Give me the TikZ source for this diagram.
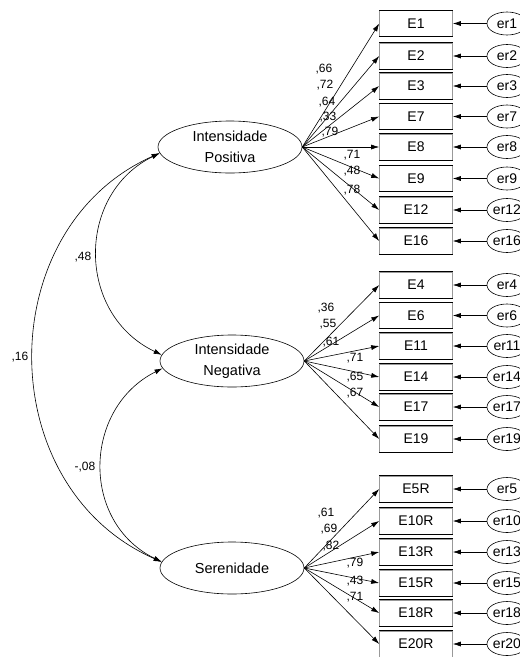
\documentclass[tikz,border=0pt]{standalone}
\usepackage{fontspec}
\setmainfont{Liberation Sans}
\usetikzlibrary{arrows.meta,shapes.geometric}

\begin{document}
\begin{tikzpicture}[x=1pt,y=-1pt,line width=0.6pt]
            \tikzset{item/.style = {shape=rectangle,draw=black!40,minimum width=73pt,minimum height=26pt,inner sep=0pt,font=\fontsize{14}{16}\selectfont,
                append after command={(\tikzlastnode.north west) edge[draw=black,line width=0.8pt] (\tikzlastnode.north east)
                                      (\tikzlastnode.south west) edge[draw=black,line width=0.8pt] (\tikzlastnode.south east)}}}
            \tikzset{factor/.style = {shape=ellipse,draw,minimum width=144pt,minimum height=52pt,inner sep=0pt,align=center,font=\fontsize{14.5}{21}\selectfont}}
            \tikzset{err/.style = {shape=ellipse,draw,minimum width=40pt,minimum height=23pt,inner sep=0pt,font=\fontsize{14}{16}\selectfont}}
            \tikzset{load/.style = {inner sep=0pt,font=\fontsize{12}{14}\selectfont}}
            \tikzset{edge/.style = {-{Latex[length=8pt,width=5pt]}}}
            \tikzset{cov/.style = {{Latex[length=8pt,width=5pt]}-{Latex[length=8pt,width=5pt]}}}
            \useasboundingbox (0,0) rectangle (520,657);

            \node[factor] (pos) at (230,147) {Intensidade\\Positiva};
            \node[factor] (neg) at (232,361) {Intensidade\\Negativa};
            \node[factor] (ser) at (232,568) {Serenidade};

            \node[item] (e1)  at (416,23.5) {E1};
            \node[item] (e2)  at (416,56)   {E2};
            \node[item] (e3)  at (416,86)   {E3};
            \node[item] (e7)  at (416,116.5) {E7};
            \node[item] (e8)  at (416,147)  {E8};
            \node[item] (e9)  at (416,178.5) {E9};
            \node[item] (e12) at (416,210)  {E12};
            \node[item] (e16) at (416,241)  {E16};

            \node[item] (e4)  at (416,285)  {E4};
            \node[item] (e6)  at (416,315.5) {E6};
            \node[item] (e11) at (416,346)  {E11};
            \node[item] (e14) at (416,377)  {E14};
            \node[item] (e17) at (416,407)  {E17};
            \node[item] (e19) at (416,439)  {E19};

            \node[item] (e5)  at (416,489)  {E5R};
            \node[item] (e10) at (416,521)  {E10R};
            \node[item] (e13) at (416,552)  {E13R};
            \node[item] (e15) at (416,583)  {E15R};
            \node[item] (e18) at (416,613)  {E18R};
            \node[item] (e20) at (416,644)  {E20R};

            \node[err] (er1)  at (507,23.5) {er1};
            \node[err] (er2)  at (507,56)   {er2};
            \node[err] (er3)  at (507,86)   {er3};
            \node[err] (er7)  at (507,116.5) {er7};
            \node[err] (er8)  at (507,147)  {er8};
            \node[err] (er9)  at (507,178.5) {er9};
            \node[err] (er12) at (507,210)  {er12};
            \node[err] (er16) at (507,241)  {er16};
            \node[err] (er4)  at (507,285)  {er4};
            \node[err] (er6)  at (507,315.5) {er6};
            \node[err] (er11) at (507,346)  {er11};
            \node[err] (er14) at (507,377)  {er14};
            \node[err] (er17) at (507,407)  {er17};
            \node[err] (er19) at (507,439)  {er19};
            \node[err] (er5)  at (507,489)  {er5};
            \node[err] (er10) at (507,521)  {er10};
            \node[err] (er13) at (507,552)  {er13};
            \node[err] (er15) at (507,583)  {er15};
            \node[err] (er18) at (507,613)  {er18};
            \node[err] (er20) at (507,644)  {er20};

            % loadings
            \node[load] (l1) at (324,69)  {,66};
            \node[load] (l2) at (325,85)  {,72};
            \node[load] (l3) at (327,102) {,64};
            \node[load] (l7) at (328,117) {,33};
            \node[load] (l8) at (330,132) {,79};
            \node[load] (l9) at (352,155) {,71};
            \node[load] (l12) at (352,171) {,48};
            \node[load] (l16) at (352,190) {,78};
            \node[load] (l4) at (326,308) {,36};
            \node[load] (l6) at (328,324) {,55};
            \node[load] (l11) at (331,342) {,61};
            \node[load] (l14) at (355,358) {,71};
            \node[load] (l17) at (355,377) {,65};
            \node[load] (l19) at (355,393) {,67};
            \node[load] (l5) at (326,513) {,61};
            \node[load] (l10) at (329,529) {,69};
            \node[load] (l13) at (331,546) {,82};
            \node[load] (l15) at (355,563) {,79};
            \node[load] (l18) at (355,581) {,43};
            \node[load] (l20) at (355,597) {,71};
            \node[load] (c1) at (83,257) {,48};
            \node[load] (c2) at (20,357) {,16};
            \node[load] (c3) at (85,467) {-,08};

            \draw[edge] (pos.east) to (e1.west);
            \draw[edge] (pos.east) to (e2.west);
            \draw[edge] (pos.east) to (e3.west);
            \draw[edge] (pos.east) to (e7.west);
            \draw[edge] (pos.east) to (e8.west);
            \draw[edge] (pos.east) to (e9.west);
            \draw[edge] (pos.east) to (e12.west);
            \draw[edge] (pos.east) to (e16.west);
            \draw[edge] (neg.east) to (e4.west);
            \draw[edge] (neg.east) to (e6.west);
            \draw[edge] (neg.east) to (e11.west);
            \draw[edge] (neg.east) to (e14.west);
            \draw[edge] (neg.east) to (e17.west);
            \draw[edge] (neg.east) to (e19.west);
            \draw[edge] (ser.east) to (e5.west);
            \draw[edge] (ser.east) to (e10.west);
            \draw[edge] (ser.east) to (e13.west);
            \draw[edge] (ser.east) to (e15.west);
            \draw[edge] (ser.east) to (e18.west);
            \draw[edge] (ser.east) to (e20.west);

            \draw[edge] (er1) to (e1);
            \draw[edge] (er2) to (e2);
            \draw[edge] (er3) to (e3);
            \draw[edge] (er7) to (e7);
            \draw[edge] (er8) to (e8);
            \draw[edge] (er9) to (e9);
            \draw[edge] (er12) to (e12);
            \draw[edge] (er16) to (e16);
            \draw[edge] (er4) to (e4);
            \draw[edge] (er6) to (e6);
            \draw[edge] (er11) to (e11);
            \draw[edge] (er14) to (e14);
            \draw[edge] (er17) to (e17);
            \draw[edge] (er19) to (e19);
            \draw[edge] (er5) to (e5);
            \draw[edge] (er10) to (e10);
            \draw[edge] (er13) to (e13);
            \draw[edge] (er15) to (e15);
            \draw[edge] (er18) to (e18);
            \draw[edge] (er20) to (e20);

            % covariances
            \draw[cov] (pos.185) .. controls (76,194) and (76,314) .. (neg.175);
            \draw[cov] (neg.186) .. controls (83,408) and (80,522) .. (ser.175);
            \draw[cov] (pos.185) .. controls (-9,228) and (-9,487) .. (ser.175);
        \end{tikzpicture}
\end{document}
